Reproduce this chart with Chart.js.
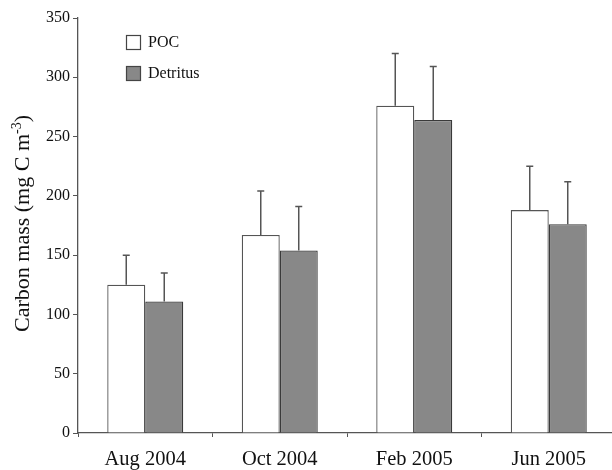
<!DOCTYPE html>
<html>
<head>
<meta charset="utf-8">
<script src="https://cdn.jsdelivr.net/npm/chart.js@4/dist/chart.umd.min.js"></script>
<style>
  html, body { margin: 0; padding: 0; background: #fff; overflow: hidden; }
  #wrap { width: 616px; height: 470px; }
</style>
</head>
<body>
<div id="wrap"><canvas id="c" width="616" height="470"></canvas></div>
<script>
// Sampling campaigns
const categories = ['Aug 2004', 'Oct 2004', 'Feb 2005', 'Jun 2005'];
// Mean carbon mass (mg C m^-3)
const pocValues = [125, 167, 276, 188];
const detritusValues = [111, 154, 264, 176];
// Upper standard deviation
const pocErrors = [25, 37, 44, 37];
const detritusErrors = [24, 37, 45, 36];
// Y-axis ticks
const yTicks = [0, 50, 100, 150, 200, 250, 300, 350];

const FONT = '"Liberation Serif", "Times New Roman", serif';

// Upward-only error whiskers with a short cap
const errorBars = {
  id: 'errorBars',
  afterDatasetsDraw(chart) {
    const ctx = chart.ctx;
    const y = chart.scales.y;
    chart.data.datasets.forEach((ds, di) => {
      const meta = chart.getDatasetMeta(di);
      meta.data.forEach((bar, i) => {
        const top = y.getPixelForValue(ds.data[i] + ds.errors[i]);
        const base = y.getPixelForValue(ds.data[i]);
        ctx.save();
        ctx.strokeStyle = '#555';
        ctx.lineWidth = 1.5;
        ctx.beginPath();
        ctx.moveTo(bar.x, base);
        ctx.lineTo(bar.x, top);
        ctx.moveTo(bar.x - 3.5, top);
        ctx.lineTo(bar.x + 3.5, top);
        ctx.stroke();
        ctx.restore();
      });
    });
  }
};

// Boxed legend inside the plot, upper left
const innerLegend = {
  id: 'innerLegend',
  afterDraw(chart) {
    const ctx = chart.ctx;
    const area = chart.chartArea;
    const x0 = area.left + 48;
    let y0 = area.top + 17;
    ctx.save();
    chart.data.datasets.forEach((ds) => {
      ctx.fillStyle = ds.backgroundColor;
      ctx.fillRect(x0, y0, 15, 15);
      ctx.strokeStyle = '#444';
      ctx.lineWidth = 1.2;
      ctx.strokeRect(x0 + 0.5, y0 + 0.5, 14, 14);
      ctx.fillStyle = '#111';
      ctx.font = '16px ' + FONT;
      ctx.textBaseline = 'middle';
      ctx.textAlign = 'left';
      ctx.fillText(ds.label, x0 + 22, y0 + 8);
      y0 += 31;
    });
    ctx.restore();
  }
};

// Rotated y-axis title with superscript exponent
const yTitle = {
  id: 'yTitle',
  afterDraw(chart) {
    const ctx = chart.ctx;
    const area = chart.chartArea;
    const main = 'Carbon mass (mg C m';
    const sup = '-3';
    const tail = ')';
    ctx.save();
    ctx.fillStyle = '#111';
    ctx.font = '22px ' + FONT;
    const wMain = ctx.measureText(main).width;
    const wTail = ctx.measureText(tail).width;
    ctx.font = '14px ' + FONT;
    const wSup = ctx.measureText(sup).width;
    const total = wMain + wSup + wTail;
    ctx.translate(29, (area.top + area.bottom) / 2 - 2);
    ctx.rotate(-Math.PI / 2);
    ctx.textBaseline = 'alphabetic';
    ctx.textAlign = 'left';
    let x = -total / 2;
    ctx.font = '22px ' + FONT;
    ctx.fillText(main, x, 0);
    x += wMain;
    ctx.font = '14px ' + FONT;
    ctx.fillText(sup, x, -8);
    x += wSup;
    ctx.font = '22px ' + FONT;
    ctx.fillText(tail, x, 0);
    ctx.restore();
  }
};

new Chart(document.getElementById('c'), {
  type: 'bar',
  data: {
    labels: categories,
    datasets: [
      {
        label: 'POC',
        data: pocValues,
        errors: pocErrors,
        backgroundColor: '#ffffff',
        borderColor: '#555555',
        borderWidth: 1.3,
        categoryPercentage: 0.565,
        barPercentage: 1.0
      },
      {
        label: 'Detritus',
        data: detritusValues,
        errors: detritusErrors,
        backgroundColor: '#888888',
        borderColor: '#3a3a3a',
        borderWidth: 1.3,
        categoryPercentage: 0.565,
        barPercentage: 1.0
      }
    ]
  },
  options: {
    responsive: false,
    animation: false,
    devicePixelRatio: 1,
    layout: { padding: { top: 18, right: 0, bottom: 0, left: 0 } },
    plugins: {
      legend: { display: false },
      tooltip: { enabled: false }
    },
    scales: {
      x: {
        offset: true,
        grid: {
          display: true,
          offset: true,
          drawOnChartArea: false,
          drawTicks: true,
          tickLength: 4,
          color: '#555'
        },
        border: { display: true, color: '#555', width: 1.3 },
        ticks: {
          color: '#111',
          font: { family: FONT, size: 20.5 },
          padding: 10,
          maxRotation: 0
        },
        afterFit(scale) { scale.height = 37; }
      },
      y: {
        min: 0,
        max: 350,
        afterBuildTicks(scale) {
          scale.ticks = yTicks.map(v => ({ value: v }));
        },
        grid: {
          display: true,
          drawOnChartArea: false,
          drawTicks: true,
          tickLength: 5,
          color: '#555'
        },
        border: { display: true, color: '#555', width: 1.3 },
        ticks: {
          color: '#111',
          font: { family: FONT, size: 16 },
          padding: 3
        },
        afterFit(scale) { scale.width = 78; }
      }
    }
  },
  plugins: [errorBars, innerLegend, yTitle]
});
</script>
</body>
</html>
